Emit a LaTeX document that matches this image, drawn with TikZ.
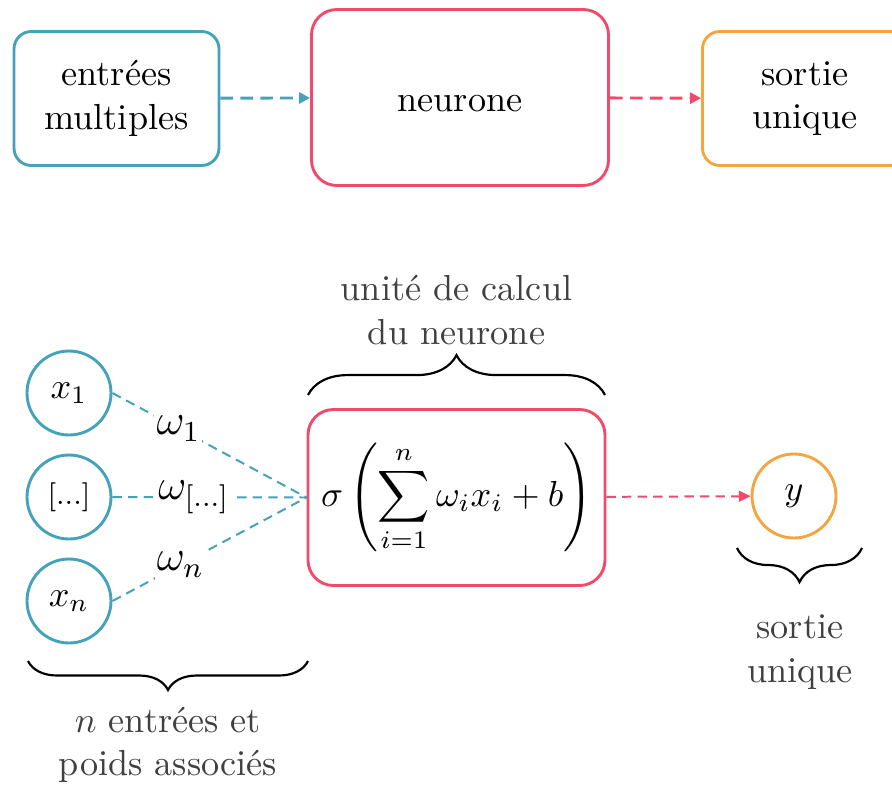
\documentclass[tikz,border=0pt]{standalone}
\usetikzlibrary{arrows.meta,decorations.pathreplacing}
\definecolor{cteal}{HTML}{45A2B8}
\definecolor{cred}{HTML}{F24A6B}
\definecolor{corange}{HTML}{F5A540}
\definecolor{cgrey}{HTML}{404040}
\def\px{0.276pt}
\begin{document}
\begin{tikzpicture}[x=0.276pt,y=-0.276pt,
  box/.style={draw, line width=0.8pt, align=center, inner sep=0pt, rounded corners=4.8pt},
  bigbox/.style={box, minimum width=297*\px, minimum height=176*\px, rounded corners=7pt},
  smallbox/.style={box, minimum width=205*\px, minimum height=134*\px},
  circ/.style={draw, circle, line width=0.8pt, minimum size=84*\px, inner sep=0pt},
  tarrow/.style={line width=0.8pt, dash pattern=on 3.5pt off 2pt, -{Triangle[length=3pt,width=3pt]}},
  wline/.style={cteal, line width=0.55pt, dash pattern=on 2.6pt off 1.7pt},
  wlab/.style={fill=white, text=black, inner sep=0.6pt, font=\large},
  rarrow/.style={cred, line width=0.55pt, dash pattern=on 2.6pt off 1.7pt, -{Triangle[length=3.2pt,width=3pt]}},
  bracedraw/.style={line width=0.6pt, decorate},
  blabel/.style={text=cgrey, align=center}
]
\useasboundingbox (0,0) rectangle (892,785);
% top row
\node[smallbox, draw=cteal] (in) at (116.5,98.5) {entrées\\multiples};
\node[bigbox, draw=cred, text height=8pt, text depth=0pt] (neu) at (460,97.5) {neurone};
\node[smallbox, draw=corange] (out) at (805,98.5) {sortie\\unique};
\draw[tarrow, cteal] (in) -- (neu);
\draw[tarrow, cred] (neu) -- (out);
% bottom row
\node[circ, draw=cteal] (x1) at (69,393) {$x_1$};
\node[circ, draw=cteal] (xd) at (69,497) {\footnotesize[...]};
\node[circ, draw=cteal] (xn) at (69,601) {$x_n$};
\node[bigbox, draw=cred] (s) at (456.5,497.5) {$\displaystyle \sigma\left(\sum_{i=1}^{n}\omega_i x_i + b\right)$};
\node[circ, draw=corange] (y) at (794,496) {$y$};
\draw[wline] (x1.east) -- node[wlab, pos=.34] (w1) {$\omega_1$} (s.west);
\draw[wline] (xd.east) -- node[wlab, pos=.42] (wd) {$\omega_{[\ldots]}$} (s.west);
\draw[wline] (xn.east) -- node[wlab, pos=.35] (wn) {$\omega_n$} (s.west);
\draw[rarrow] (s) -- (y);
% braces
\coordinate (tb1) at (308,395);
\coordinate (tb2) at (605,395);
\draw[bracedraw, decoration={brace, amplitude=11pt}] (tb1) -- (tb2);
\node[blabel] (tlab) at (456.5,310) {unité de calcul\\du neurone};
\coordinate (ib1) at (28,661);
\coordinate (ib2) at (308,661);
\draw[bracedraw, decoration={brace, amplitude=8pt}] (ib2) -- (ib1);
\node[blabel] (ilab) at (168,745) {$n$ entrées et\\poids associés};
\coordinate (yb1) at (737,548);
\coordinate (yb2) at (862,548);
\draw[bracedraw, decoration={brace, amplitude=9.4pt}] (yb2) -- (yb1);
\node[blabel] (ylab) at (800,652) {sortie\\unique};
\end{tikzpicture}
\end{document}
